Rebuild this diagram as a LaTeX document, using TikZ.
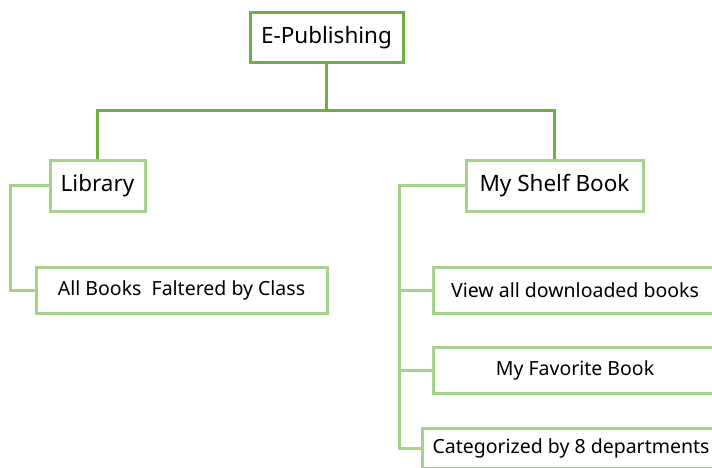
\documentclass[tikz,border=0pt]{standalone}
\usepackage{fontspec}
\setmainfont{Noto Sans}
\definecolor{dkgreen}{HTML}{70AD47}
\definecolor{ltgreen}{HTML}{A9D18E}
\begin{document}
\begin{tikzpicture}[x=1pt,y=-1pt,
  rootbox/.style={draw=dkgreen, line width=3pt, fill=white, inner sep=0pt,
    font=\fontsize{22.5}{24}\selectfont},
  headbox/.style={draw=ltgreen, line width=3pt, fill=white, inner sep=0pt,
    font=\fontsize{22.5}{24}\selectfont},
  itembox/.style={draw=ltgreen, line width=3pt, fill=white, inner sep=0pt,
    font=\fontsize{19.5}{21}\selectfont},
  dkline/.style={draw=dkgreen, line width=3pt},
  ltline/.style={draw=ltgreen, line width=3pt}]
\useasboundingbox (0,0) rectangle (712,468);
\clip (0,0) rectangle (712,468);
\fill[white] (0,0) rectangle (712,468);

% connectors first, boxes drawn on top
\coordinate (bar) at (326.5,111);
\coordinate (lspine) at (10,185.5);
\coordinate (sspine) at (399,185.5);

% tree nodes
\node[rootbox, minimum width=153, minimum height=50] (root) at (326.5,38) {E-Publishing};
\node[headbox, minimum width=95, minimum height=51] (lib) at (97.5,185.5) {Library};
\node[headbox, minimum width=177, minimum height=51] (shelf) at (554.5,185.5) {My Shelf Book};
\node[itembox, minimum width=291, minimum height=46] (all) at (181.5,290) {All Books~ Faltered by Class};
\node[itembox, minimum width=284, minimum height=46] (view) at (575,290) {View all downloaded books};
\node[itembox, minimum width=284, minimum height=46] (fav) at (575,370) {My Favorite Book};
\node[itembox, minimum width=298, minimum height=40] (cat) at (571,448) {Categorized by 8 departments};

% root to first level
\draw[dkline] (root.south) -- (bar);
\draw[dkline] (bar) -| (lib.north);
\draw[dkline] (bar) -| (shelf.north);

% Library branch
\draw[ltline] (lib.west) -- (lspine) |- (all.west);

% My Shelf Book branch
\draw[ltline] (shelf.west) -- (sspine) |- (cat.west);
\draw[ltline] (sspine |- view.west) -- (view.west);
\draw[ltline] (sspine |- fav.west) -- (fav.west);
\end{tikzpicture}
\end{document}
